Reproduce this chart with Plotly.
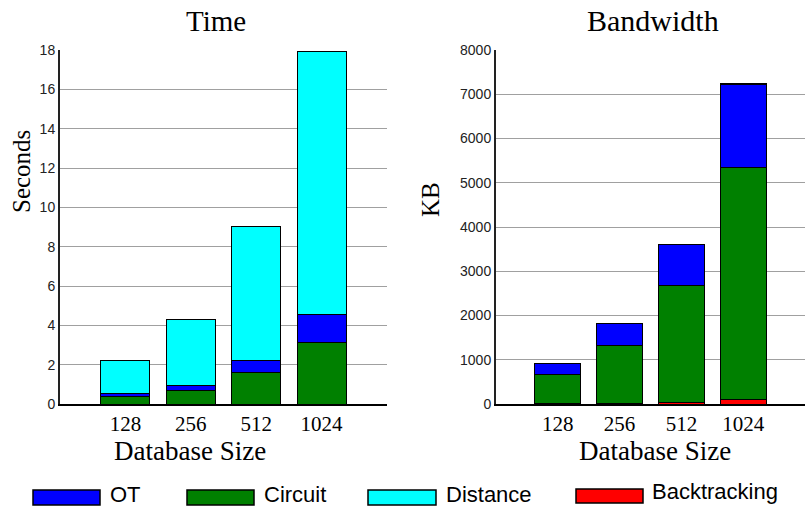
import plotly.graph_objects as go

sizes = ["128", "256", "512", "1024"]

time_circuit = [0.39, 0.68, 1.60, 3.14]
time_ot = [0.14, 0.26, 0.62, 1.39]
time_distance = [1.69, 3.38, 6.83, 13.37]

bw_backtracking = [5, 15, 40, 95]
bw_circuit = [658, 1312, 2637, 5253]
bw_ot = [242, 483, 929, 1878]
bw_distance = [4, 6, 8, 12]

series_names = ["OT", "Circuit", "Distance", "Backtracking"]
colors = {"OT": "#0000FF", "Circuit": "#008000", "Distance": "#00FFFF", "Backtracking": "#FF0000"}

SERIF = "Liberation Serif"
SANS = "Liberation Sans, Arial"
W, H = 805, 507

fig = go.Figure()

def add_bar(x, y, name, xa, ya):
    fig.add_trace(go.Bar(
        x=x, y=y, name=name, xaxis=xa, yaxis=ya, width=0.75,
        marker=dict(color=colors[name], line=dict(color="black", width=1)),
        showlegend=False,
    ))

add_bar(sizes, time_circuit, "Circuit", "x", "y")
add_bar(sizes, time_ot, "OT", "x", "y")
add_bar(sizes, time_distance, "Distance", "x", "y")

add_bar(sizes, bw_backtracking, "Backtracking", "x2", "y2")
add_bar(sizes, bw_circuit, "Circuit", "x2", "y2")
add_bar(sizes, bw_ot, "OT", "x2", "y2")
add_bar(sizes, bw_distance, "Distance", "x2", "y2")

def px_x(p):
    return p / W

def px_y(p):
    return (H - p) / H

ydom = [px_y(404), px_y(50)]

xaxis_common = dict(
    type="category", range=[-1, 4], showgrid=False, showline=True,
    linecolor="black", linewidth=2, ticks="", zeroline=False, automargin=False,
    tickfont=dict(family=SERIF, size=21, color="black"),
)
yaxis_common = dict(
    showgrid=True, gridcolor="#A0A0A0", gridwidth=1, showline=True,
    linecolor="#222222", linewidth=2, ticks="", zeroline=False, automargin=False,
    tickfont=dict(family=SANS, size=14, color="#222222"),
)

fig.update_layout(
    width=W, height=H,
    margin=dict(l=0, r=0, t=0, b=0, pad=0, autoexpand=False),
    paper_bgcolor="white", plot_bgcolor="white",
    barmode="stack", bargap=0.25,
    showlegend=False,
    xaxis=dict(domain=[px_x(60), px_x(387)], anchor="y", **xaxis_common),
    yaxis=dict(domain=ydom, anchor="x", range=[0, 18], dtick=2, **yaxis_common),
    xaxis2=dict(domain=[px_x(496), 1.0], anchor="y2", **xaxis_common),
    yaxis2=dict(domain=ydom, anchor="x2", range=[0, 8000], dtick=1000, **yaxis_common),
)

annotations = [
    dict(text="Time", x=px_x(216), y=px_y(21), font=dict(family=SERIF, size=29, color="black")),
    dict(text="Bandwidth", x=px_x(653), y=px_y(21), font=dict(family=SERIF, size=30, color="black")),
    dict(text="Database Size", x=px_x(190), y=px_y(451), font=dict(family=SERIF, size=27, color="black")),
    dict(text="Database Size", x=px_x(655), y=px_y(451), font=dict(family=SERIF, size=27, color="black")),
    dict(text="Seconds", x=px_x(22), y=px_y(172), textangle=-90, font=dict(family=SERIF, size=25, color="black")),
    dict(text="KB", x=px_x(430), y=px_y(200), textangle=-90, font=dict(family=SERIF, size=25, color="black")),
]
for a in annotations:
    a.update(xref="paper", yref="paper", showarrow=False, xanchor="center", yanchor="middle")

# Legend drawn as swatches + labels at the bottom
legend_items = [
    ("OT", 33, 100, 490, 505, 108, 494),
    ("Circuit", 187, 254, 490, 505, 262, 494),
    ("Distance", 368, 436, 490, 505, 444, 494),
    ("Backtracking", 576, 643, 489, 503, 650, 491),
]
shapes = []
for name, x0, x1, y0, y1, tx, ty in legend_items:
    shapes.append(dict(type="rect", xref="paper", yref="paper",
                       x0=px_x(x0), x1=px_x(x1), y0=px_y(y1), y1=px_y(y0),
                       fillcolor=colors[name], line=dict(color="black", width=1.5)))
    annotations.append(dict(text=name, xref="paper", yref="paper", x=px_x(tx), y=px_y(ty),
                            xanchor="left", yanchor="middle", showarrow=False,
                            font=dict(family=SANS, size=22, color="black")))

fig.update_layout(annotations=annotations, shapes=shapes)

fig.write_html(
    "out.html",
    config={"displayModeBar": False},
    post_script="document.body.style.margin='0';document.body.style.overflow='hidden';",
)
